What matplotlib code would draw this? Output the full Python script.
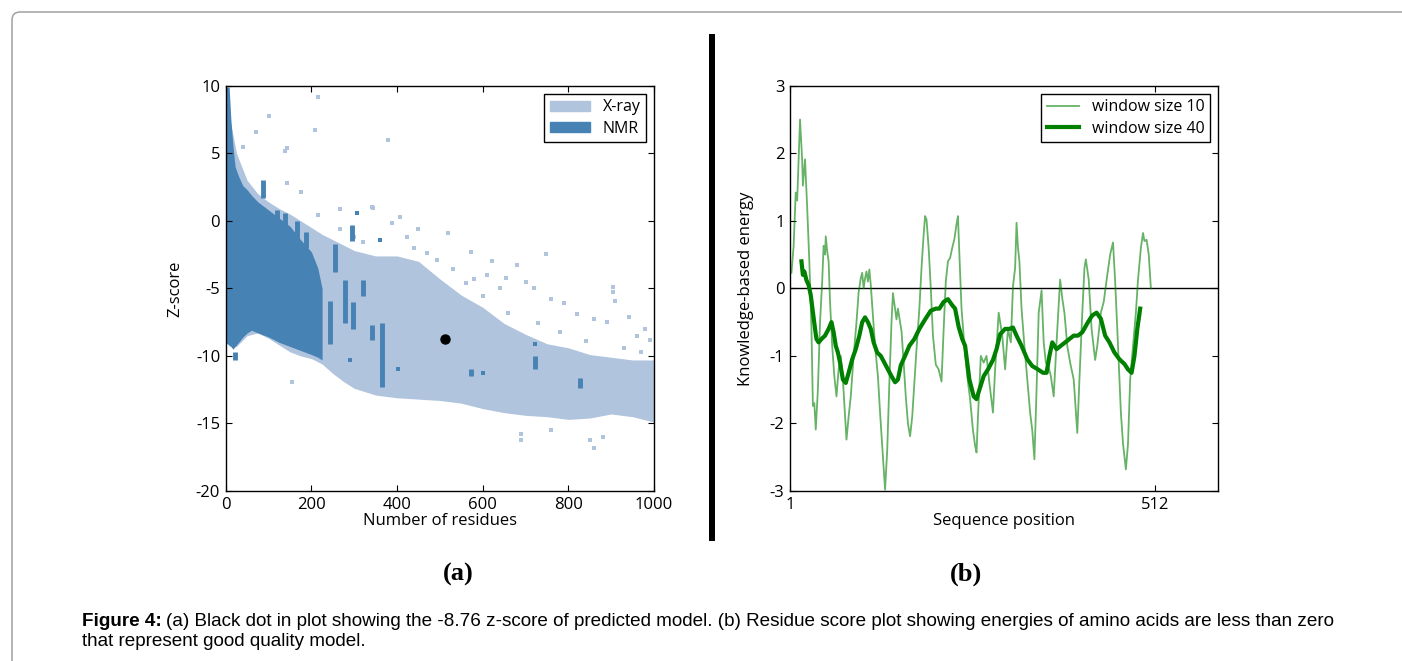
import numpy as np
import matplotlib
matplotlib.use("Agg")
import matplotlib.pyplot as plt
from matplotlib.patches import Patch, Rectangle, FancyBboxPatch

plt.rcParams["font.family"] = ["Open Sans", "DejaVu Sans"]
plt.rcParams["axes.unicode_minus"] = False
plt.rcParams["xtick.direction"] = "in"
plt.rcParams["ytick.direction"] = "in"
plt.rcParams["xtick.top"] = True
plt.rcParams["ytick.right"] = True

# ---- panel (a): ProSA z-score cloud ----
xray_n = [0, 10, 25, 50, 75, 100, 125, 150, 175, 200, 225, 250, 275, 300, 350,
          400, 450, 500, 550, 600, 650, 700, 750, 800, 850, 900, 950, 1000]
xray_hi = [9.8, 7.5, 5.0, 3.0, 2.0, 1.4, 0.9, 0.5, 0.0, -0.5, -1.0, -1.4, -1.8, -2.2, -2.6,
           -2.6, -3.0, -4.3, -5.5, -6.4, -7.6, -8.4, -9.1, -9.4, -9.9, -10.1, -10.3, -10.3]
xray_lo = [-9.0, -9.3, -9.3, -8.5, -8.3, -8.7, -9.2, -9.7, -10.0, -10.2, -10.6, -11.3, -11.9, -12.4, -12.9,
           -13.1, -13.2, -13.3, -13.5, -13.9, -14.2, -14.4, -14.5, -14.7, -14.6, -14.3, -14.5, -14.9]

nmr_n = [0, 8, 12, 17, 22, 30, 40, 50, 60, 75, 100, 125, 150, 175, 200, 215, 225]
nmr_hi = [9.9, 9.9, 7.5, 5.5, 4.0, 3.3, 2.6, 2.3, 1.9, 1.4, 0.8, 0.2, -0.4, -1.4, -2.3, -3.5, -5.0]
nmr_lo = [-9.0, -9.2, -9.3, -9.5, -9.3, -9.0, -8.6, -8.3, -8.1, -8.3, -8.6, -9.0, -9.3, -9.6, -9.9, -10.1, -10.3]

# NMR streaks: residues, z low, z high
nmr_bar_n = [22, 88, 119, 138, 166, 187, 244, 255, 279, 294, 298, 321, 341, 364, 572, 722, 827]
nmr_bar_lo = [-10.3, 1.7, -0.4, -0.6, -1.6, -2.0, -9.1, -3.8, -7.6, -1.5, -8.0, -5.6, -8.8, -12.3, -11.5, -11.0, -12.4]
nmr_bar_hi = [-9.7, 3.0, 0.8, 0.6, 0.0, -0.8, -5.9, -1.7, -4.4, -0.3, -6.0, -4.4, -7.7, -7.6, -11.0, -10.0, -11.6]
nmr_pt_n = [290, 402, 306, 360, 600, 722]
nmr_pt_z = [-10.3, -11.0, 0.6, -1.4, -11.3, -9.1]

xray_pt_n = [215, 102, 70, 208, 380, 40, 142, 138, 142, 175, 345, 407, 450, 388, 267, 215,
             520, 572, 621, 748, 679, 905, 905, 908, 942, 493, 154, 690, 690, 860, 850, 760,
             880, 980, 655, 700, 720, 760, 790, 820, 860, 890, 960, 990, 640, 580, 610,
             341, 423, 267, 300, 320, 440, 470, 530, 560, 600, 660, 730, 780, 840, 930, 970]
xray_pt_z = [9.2, 7.75, 6.6, 6.7, 6.0, 5.5, 5.4, 5.2, 2.8, 2.1, 0.95, 0.26, -0.6, -0.14, 0.9, 0.44,
             -0.93, -2.3, -3.0, -2.45, -3.3, -4.9, -5.3, -5.9, -7.1, -2.9, -11.9, -16.2, -15.8, -16.8, -16.2, -15.5,
             -16.0, -8.0, -4.2, -4.5, -5.0, -5.8, -6.1, -6.9, -7.3, -7.5, -8.5, -8.8, -5.0, -4.3, -4.0,
             1.05, -1.18, -0.6, -1.2, -1.6, -2.0, -2.4, -3.6, -4.6, -5.6, -6.8, -7.6, -8.2, -8.9, -9.4, -9.7]

model_n = 512
model_z = -8.76

# ---- panel (b): residue energy profiles ----
w10_pos = [3, 6, 9, 11, 15, 18, 19, 22, 25, 28, 31, 33, 35, 37, 40,
           43, 46, 48, 50, 51, 53, 55, 57, 60, 63, 66, 69, 72, 75, 78,
           80, 83, 86, 90, 94, 97, 100, 102, 104, 106, 108, 110, 112, 114, 117,
           120, 124, 127, 131, 134, 137, 140, 143, 145, 148, 150, 152, 155, 157, 160,
           163, 166, 169, 172, 175, 178, 182, 185, 188, 190, 192, 195, 198, 201, 205,
           209, 213, 216, 219, 222, 225, 228, 231, 234, 236, 238, 241, 245, 249, 253,
           257, 260, 262, 264, 268, 272, 276, 280, 285, 288, 293, 298, 302, 306, 310,
           313, 316, 318, 320, 322, 325, 329, 333, 337, 340, 343, 346, 349, 353, 356,
           359, 363, 366, 370, 374, 379, 382, 385, 389, 393, 398, 403, 406, 410, 413,
           415, 419, 423, 428, 431, 436, 440, 445, 449, 453, 456, 460, 464, 467, 471,
           474, 477, 481, 485, 488, 492, 495, 497, 500, 503, 506]
w10_e = [0.23, 0.62, 1.42, 1.3, 2.5, 1.9, 1.52, 1.91, 1.2, 0.4, -0.6, -1.74, -1.7, -2.09, -1.5,
         -0.5, 0.1, 0.63, 0.5, 0.77, 0.55, 0.4, -0.2, -0.85, -1.3, -1.6, -1.2, -1.0, -1.35, -1.9,
         -2.24, -1.9, -1.6, -1.0, -0.5, -0.06, 0.15, 0.23, 0.0, 0.15, 0.25, 0.1, 0.28, 0.05, -0.4,
         -0.85, -1.3, -1.84, -2.5, -2.98, -2.4, -1.4, -0.5, -0.07, -0.3, -0.46, -0.3, -0.5, -0.63, -1.1,
         -1.6, -2.0, -2.19, -1.9, -1.4, -0.9, -0.3, 0.3, 0.8, 1.07, 1.02, 0.6, 0.0, -0.7, -1.13,
         -1.2, -1.38, -0.6, 0.1, 0.4, 0.45, 0.6, 0.73, 0.95, 1.07, 0.5, -0.3, -0.85, -1.3, -1.64,
         -2.1, -2.33, -2.43, -1.9, -1.0, -1.1, -1.0, -1.4, -1.84, -1.2, -0.36, -0.7, -1.2, -0.6, -0.8,
         0.03, 0.3, 0.97, 0.6, 0.4, -0.3, -0.85, -1.35, -1.84, -2.1, -2.53, -1.5, -0.36, -0.03, -0.8,
         -1.1, -1.17, -1.3, -1.6, -0.8, 0.13, -0.15, -0.36, -0.85, -1.1, -1.35, -2.14, -1.35, -0.36, 0.3,
         0.43, 0.13, -0.6, -1.06, -0.85, -0.36, -0.2, 0.2, 0.5, 0.68, 0.1, -0.85, -1.84, -2.3, -2.68,
         -2.3, -1.35, -0.85, -0.36, 0.13, 0.6, 0.82, 0.7, 0.72, 0.5, 0.0]

w40_pos = [17, 19, 21, 24, 27, 30, 33, 36, 38, 41,
           45, 50, 55, 59, 62, 65, 68, 71, 75, 79,
           83, 88, 93, 98, 102, 106, 110, 114, 118, 123,
           128, 133, 138, 143, 148, 152, 156, 162, 168, 175,
           182, 190, 198, 205, 210, 216, 222, 228, 232, 237,
           242, 246, 252, 258, 262, 266, 272, 278, 285, 290,
           295, 302, 308, 313, 318, 325, 333, 340, 348, 355,
           360, 364, 368, 374, 380, 386, 392, 398, 404, 410,
           418, 424, 430, 436, 442, 448, 455, 462, 469, 474,
           479, 483, 487, 491]
w40_e = [0.40, 0.2, 0.25, 0.12, 0.05, -0.1, -0.35, -0.6, -0.75, -0.8,
         -0.75, -0.7, -0.6, -0.5, -0.65, -0.85, -0.95, -1.1, -1.35, -1.4,
         -1.25, -1.05, -0.9, -0.7, -0.5, -0.43, -0.5, -0.6, -0.8, -0.95,
         -1.0, -1.1, -1.2, -1.3, -1.39, -1.35, -1.14, -1.0, -0.85, -0.75,
         -0.6, -0.46, -0.33, -0.3, -0.3, -0.2, -0.16, -0.25, -0.3, -0.57,
         -0.75, -0.85, -1.35, -1.6, -1.64, -1.5, -1.3, -1.2, -1.06, -0.9,
         -0.68, -0.6, -0.6, -0.58, -0.7, -0.85, -1.05, -1.15, -1.2, -1.25,
         -1.25, -1.0, -0.8, -0.9, -0.85, -0.8, -0.75, -0.7, -0.7, -0.65,
         -0.5, -0.4, -0.36, -0.45, -0.7, -0.8, -0.95, -1.05, -1.12, -1.2,
         -1.25, -1.0, -0.6, -0.3]

light = "#b0c4de"
dark = "#4682b4"

fig = plt.figure(figsize=(14.02, 6.61), dpi=100)

# ---------------- (a) ----------------
ax0 = fig.add_axes([0.161, 0.2572, 0.3055, 0.6131])
ax0.fill_between(xray_n, xray_lo, xray_hi, color=light, lw=0)
ax0.scatter(xray_pt_n, xray_pt_z, marker="s", s=10, color=light, lw=0)
ax0.fill_between(nmr_n, nmr_lo, nmr_hi, color=dark, lw=0)
ax0.vlines(nmr_bar_n, nmr_bar_lo, nmr_bar_hi, color=dark, lw=3.5)
ax0.scatter(nmr_pt_n, nmr_pt_z, marker="s", s=10, color=dark, lw=0)
ax0.plot([model_n], [model_z], "o", color="black", ms=6.5)
ax0.set_xlim(0, 1000)
ax0.set_ylim(-20, 10)
ax0.set_xticks([0, 200, 400, 600, 800, 1000])
ax0.set_yticks([-20, -15, -10, -5, 0, 5, 10])
ax0.set_xlabel("Number of residues", fontsize=12, labelpad=0)
ax0.set_ylabel("Z-score", fontsize=12, labelpad=9)
ax0.legend(handles=[Patch(color=light, label="X-ray"), Patch(color=dark, label="NMR")],
           loc="upper right", fontsize=11.5, fancybox=False, edgecolor="black",
           framealpha=1, borderaxespad=0.5, borderpad=0.35, labelspacing=0.35,
           handlelength=2.5, handleheight=0.6)

# ---------------- (b) ----------------
ax1 = fig.add_axes([0.5635, 0.2572, 0.3053, 0.6131])
ax1.axhline(0, color="black", lw=1)
ax1.plot(w10_pos, w10_e, color="green", alpha=0.6, lw=1.3, label="window size 10")
ax1.plot(w40_pos, w40_e, color="green", lw=3, label="window size 40")
ax1.set_xlim(1, 600)
ax1.set_ylim(-3, 3)
ax1.set_xticks([1, 512])
ax1.set_yticks([-3, -2, -1, 0, 1, 2, 3])
ax1.set_xlabel("Sequence position", fontsize=12, labelpad=0)
ax1.set_ylabel("Knowledge-based energy", fontsize=12, labelpad=11)
ax1.legend(loc="upper right", fontsize=11.5, fancybox=False, edgecolor="black",
           framealpha=1, borderaxespad=0.5, borderpad=0.35, labelspacing=0.35)

for ax in (ax0, ax1):
    ax.tick_params(labelsize=12, length=4, pad=4)
    for sp in ax.spines.values():
        sp.set_linewidth(1)

# ---- page decorations ----
fig.add_artist(FancyBboxPatch((0.12, -1.0), 15.0, 7.49, boxstyle="round,pad=0,rounding_size=0.08",
                              transform=fig.dpi_scale_trans, fill=False, edgecolor="#a0a0a0", lw=1.1))
fig.add_artist(Rectangle((7.09, 1.20), 0.055, 5.07, transform=fig.dpi_scale_trans,
                         color="black", lw=0))

fig.text(458 / 1402, 1 - 574 / 661, "(a)", ha="center", va="center", fontsize=19,
         fontweight="bold", family="Liberation Serif")
fig.text(966 / 1402, 1 - 574 / 661, "(b)", ha="center", va="center", fontsize=19,
         fontweight="bold", family="Liberation Serif")

cap_y1 = 1 - 621 / 661
cap_y2 = 1 - 642 / 661
t = fig.text(82 / 1402, cap_y1, "Figure 4:", fontsize=13.6, fontweight="bold",
             family="Liberation Sans", va="center")
fig.canvas.draw()
bb = t.get_window_extent()
fig.text(bb.x1 / 1402 + 4 / 1402, cap_y1,
         "(a) Black dot in plot showing the -8.76 z-score of predicted model. (b) Residue score plot "
         "showing energies of amino acids are less than zero",
         fontsize=13.6, family="Liberation Sans", va="center")
fig.text(82 / 1402, cap_y2, "that represent good quality model.", fontsize=13.6,
         family="Liberation Sans", va="center")

fig.savefig("out.png", dpi=100)
